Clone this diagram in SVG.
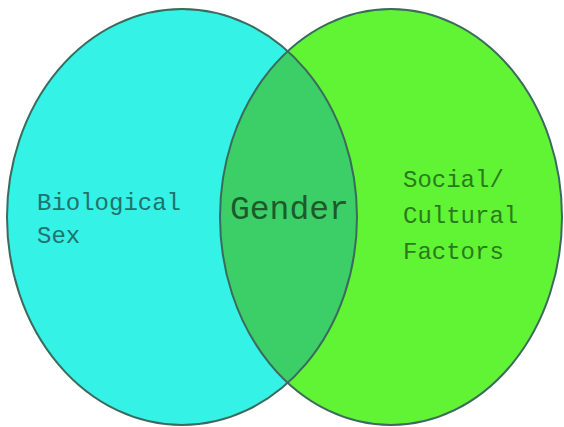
<svg xmlns="http://www.w3.org/2000/svg" width="564" height="427" viewBox="0 0 564 427">
  <style>
    .lbl { font-family: "Liberation Mono", "Courier New", monospace; font-size: 24px; }
    .outline { fill: none; stroke: #3c6b5e; stroke-width: 2; }
  </style>
  <defs>
    <clipPath id="clipRight">
      <ellipse cx="391" cy="217" rx="171" ry="208"/>
    </clipPath>
  </defs>
  <rect width="564" height="427" fill="#ffffff"/>
  <g id="biological-sex">
    <ellipse cx="182" cy="217" rx="175" ry="208" fill="#34f2e6"/>
  </g>
  <g id="social-cultural">
    <ellipse cx="391" cy="217" rx="171" ry="208" fill="#60f435"/>
  </g>
  <g id="gender">
    <ellipse cx="182" cy="217" rx="175" ry="208" fill="#3ccf68" clip-path="url(#clipRight)"/>
  </g>
  <g id="outlines">
    <ellipse class="outline" cx="182" cy="217" rx="175" ry="208"/>
    <ellipse class="outline" cx="391" cy="217" rx="171" ry="208"/>
  </g>
  <g id="labels">
    <text class="lbl" x="37" y="210" fill="#22716b">Biological</text>
    <text class="lbl" x="37" y="243" fill="#22716b">Sex</text>
    <text x="230" y="219" font-family="Liberation Mono, Courier New, monospace" font-size="33" fill="#1c5a2a">Gender</text>
    <text class="lbl" x="403" y="187" fill="#2a7a1c">Social/</text>
    <text class="lbl" x="403" y="223" fill="#2a7a1c">Cultural</text>
    <text class="lbl" x="403" y="259" fill="#2a7a1c">Factors</text>
  </g>
</svg>
